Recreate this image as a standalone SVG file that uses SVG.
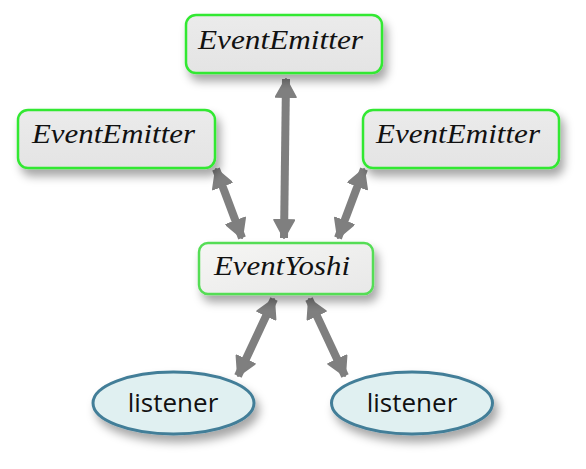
<svg xmlns="http://www.w3.org/2000/svg" width="586" height="469" viewBox="0 0 586 469">
<style>
.box{fill:url(#g1);stroke:#33e833;stroke-width:2.5;filter:url(#sh)}
.yoshi{fill:url(#g2);stroke:#55dd55;stroke-width:2.5;filter:url(#sh)}
.ell{fill:#e0f0f1;stroke:#437e98;stroke-width:3;filter:url(#sh)}
.it{font-family:"Liberation Serif",serif;font-style:italic;font-size:28px;fill:#111}
.ls{font-family:"Open Sans","Noto Sans","Liberation Sans",sans-serif;font-size:26px;fill:#111;text-anchor:middle}
.con{stroke:#7f7f7f;stroke-width:8;fill:none;marker-start:url(#ah);marker-end:url(#ah)}
</style>
<defs>
<linearGradient id="g1" x1="0" y1="0" x2="0" y2="1"><stop offset="0" stop-color="#ebebeb"/><stop offset="1" stop-color="#e4e4e4"/></linearGradient>
<linearGradient id="g2" x1="0" y1="0" x2="1" y2="1"><stop offset="0" stop-color="#f6f6f4"/><stop offset="1" stop-color="#e8e8e8"/></linearGradient>
<filter id="sh" x="-20%" y="-30%" width="150%" height="180%"><feDropShadow dx="4" dy="7" stdDeviation="5" flood-color="#000" flood-opacity="0.35"/></filter>
<marker id="ah" markerUnits="userSpaceOnUse" viewBox="0 0 20 22" refX="19" refY="11" markerWidth="20" markerHeight="22" orient="auto-start-reverse"><path d="M1,1 L19,11 L1,21 z" fill="#7f7f7f" stroke="#7f7f7f" stroke-width="2" stroke-linejoin="round"/></marker>
</defs>
<g id="connectors">
<path class="con" d="M286,79 L284,238"/>
<path class="con" d="M216,169 L242,238"/>
<path class="con" d="M364,169 L338,238"/>
<path class="con" d="M274,299 L238,376"/>
<path class="con" d="M309,299 L345,376"/>
</g>
<g id="n_top"><rect class="box" x="186" y="15" width="196" height="58" rx="10"/><text class="it" x="198" y="49" textLength="165" lengthAdjust="spacingAndGlyphs">EventEmitter</text></g>
<g id="n_left"><rect class="box" x="18" y="110" width="197" height="58" rx="10"/><text class="it" x="32" y="143" textLength="163" lengthAdjust="spacingAndGlyphs">EventEmitter</text></g>
<g id="n_right"><rect class="box" x="363" y="110" width="196" height="58" rx="10"/><text class="it" x="376" y="143" textLength="164" lengthAdjust="spacingAndGlyphs">EventEmitter</text></g>
<g id="n_yoshi"><rect class="yoshi" x="199" y="243" width="174" height="51" rx="9"/><text class="it" x="214" y="275" textLength="136" lengthAdjust="spacingAndGlyphs">EventYoshi</text></g>
<g id="n_l1"><ellipse class="ell" cx="173.5" cy="403" rx="80.5" ry="31"/><text class="ls" x="173" y="412">listener</text></g>
<g id="n_l2"><ellipse class="ell" cx="412" cy="403" rx="80.5" ry="31"/><text class="ls" x="412" y="412">listener</text></g>
</svg>
